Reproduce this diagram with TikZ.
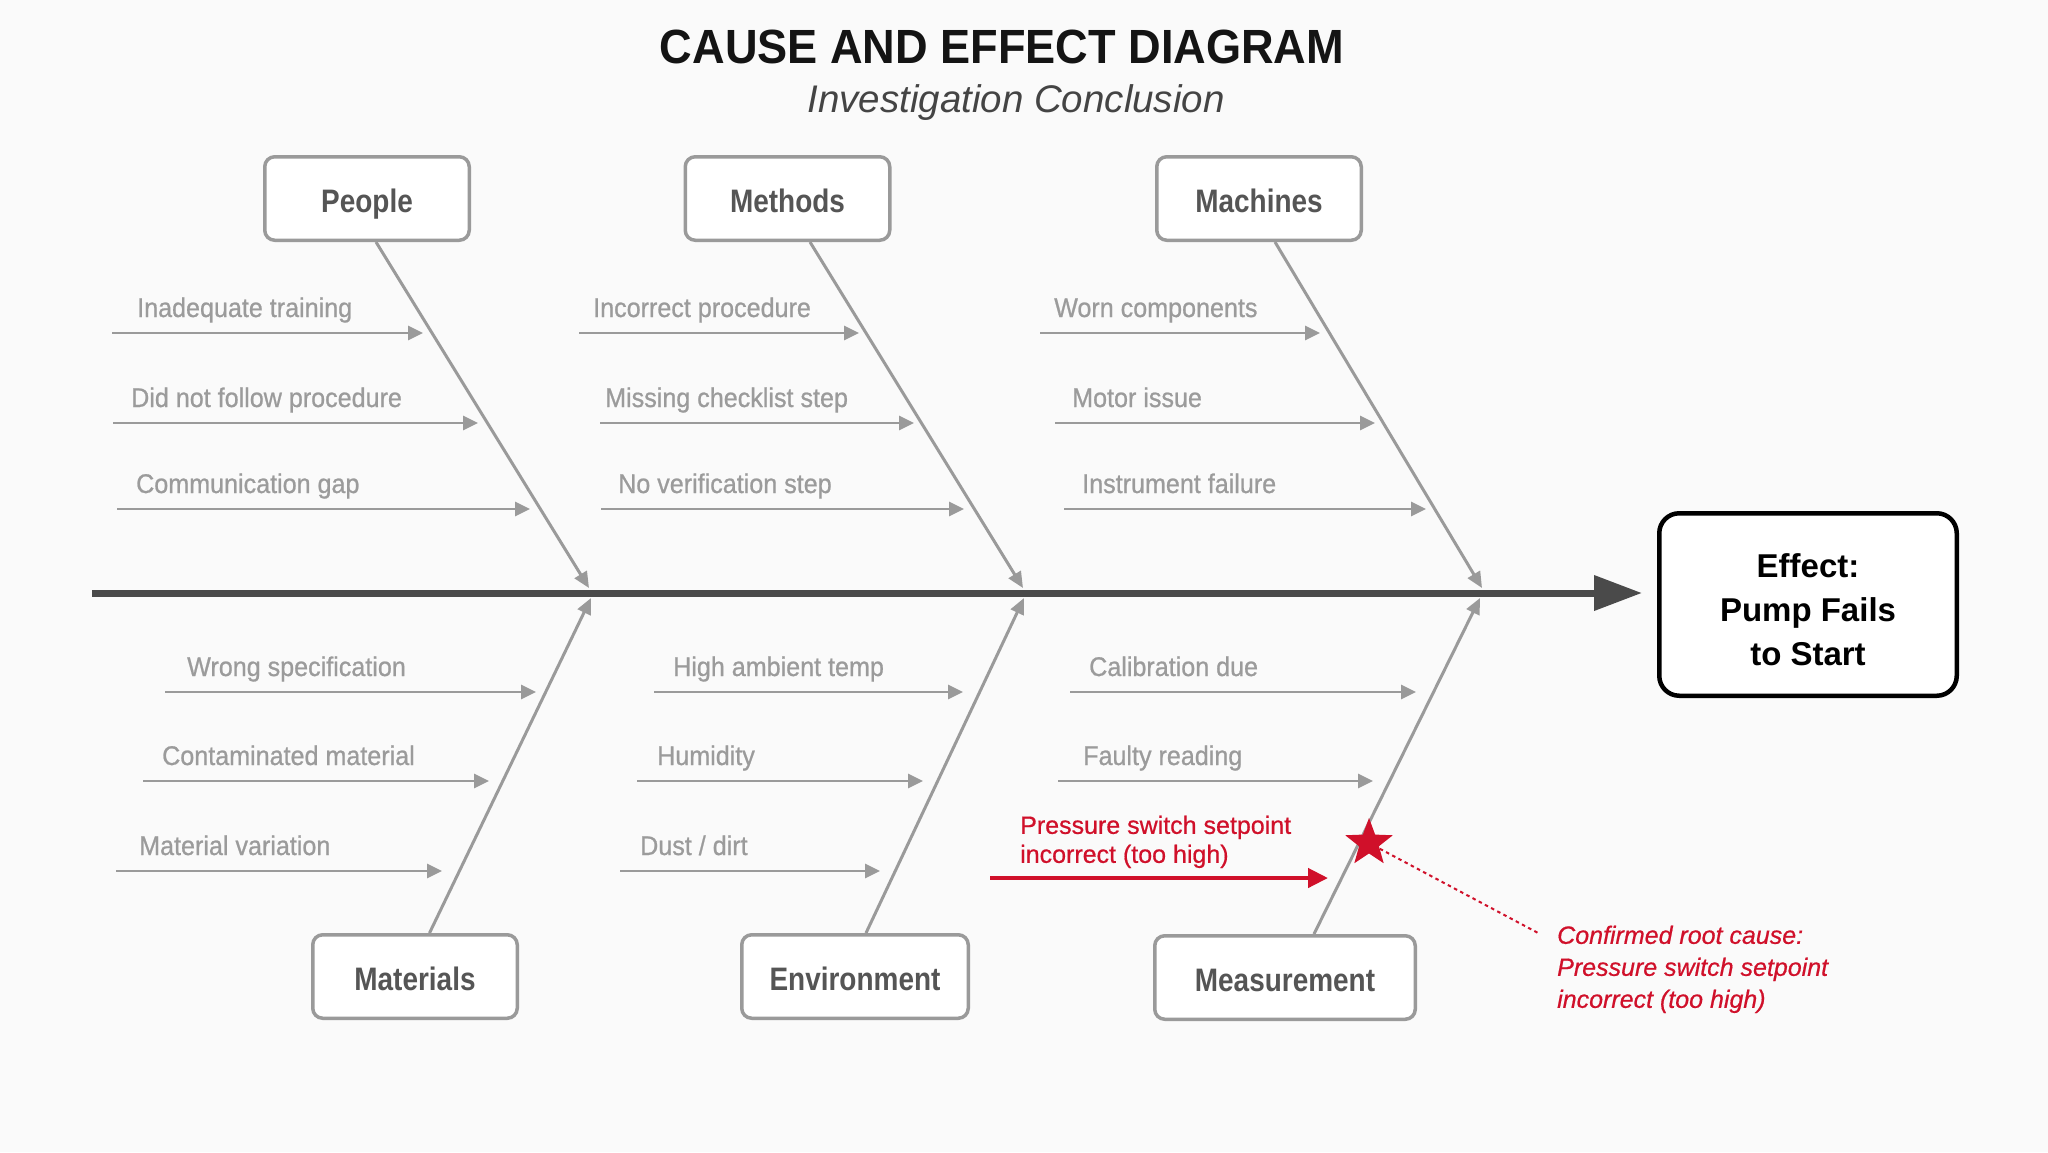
\documentclass[tikz,border=0pt]{standalone}
\usepackage{fontspec}
\setmainfont{Liberation Sans}
\newfontfamily\labfont[FakeStretch=0.93,FakeBold=0.8]{Liberation Sans}
\newfontfamily\redfont[FakeBold=0.6]{Liberation Sans}
\newfontfamily\catfont[FakeStretch=0.86]{Liberation Sans}
\newfontfamily\ttlfont[FakeStretch=0.94]{Liberation Sans}
\usetikzlibrary{arrows.meta,shapes.geometric,calc}
\definecolor{bonegray}{HTML}{9A9A9A}
\definecolor{labgray}{HTML}{9B9B9B}
\definecolor{catgray}{HTML}{555555}
\definecolor{spinegray}{HTML}{4A4A4A}
\definecolor{rootred}{HTML}{D0102A}
\definecolor{bgc}{HTML}{FAFAFA}
\definecolor{subgray}{HTML}{444444}
\begin{document}
\begin{tikzpicture}[x=1pt,y=-1pt,
  catbox/.style={draw=bonegray, line width=3.5pt, rounded corners=10pt, fill=white,
    minimum width=204.5pt, minimum height=83.5pt, text=catgray, inner sep=0pt,
    text height=32pt, text depth=4pt,
    font=\catfont\bfseries\fontsize{32.5}{38}\selectfont},
  causelab/.style={anchor=base west, inner sep=0pt, text=labgray,
    font=\labfont\fontsize{27}{32}\selectfont},
  causearr/.style={draw=bonegray, line width=2.8pt, -{Triangle[length=15pt,width=14pt]}},
  bone/.style={draw=bonegray, line width=3pt, -{Triangle[length=16pt,width=14pt]}},
]
\fill[bgc] (0,0) rectangle (2048,1152);
\useasboundingbox (0,0) rectangle (2048,1152);

% titles
\node[anchor=base, inner sep=0pt, text=black!92, font=\ttlfont\bfseries\fontsize{48}{56}\selectfont] (title) at (1002,63) {CAUSE AND EFFECT DIAGRAM};
\node[anchor=base, inner sep=0pt, text=subgray, font=\itshape\fontsize{38.5}{44}\selectfont] (subtitle) at (1016,112) {Investigation Conclusion};

% category boxes
\node[catbox] (people) at (367,198.5) {People};
\node[catbox] (methods) at (787.5,198.5) {Methods};
\node[catbox] (machines) at (1259,198.5) {Machines};
\node[catbox] (materials) at (415,976.5) {Materials};
\node[catbox, minimum width=226.5pt] (environment) at (855,976.5) {Environment};
\node[catbox, minimum width=260.5pt] (measurement) at (1285,977.5) {Measurement};

% effect
\node[draw=black, line width=4.5pt, rounded corners=20pt, fill=white,
  minimum width=297.5pt, minimum height=182.5pt, align=center, inner sep=0pt,
  font=\bfseries\fontsize{33}{44}\selectfont] (effect) at (1808,604.5) {\rule{0pt}{34.5pt}Effect:\\Pump Fails\\to Start};

% spine
\coordinate (spineL) at (92,593);
\draw[draw=spinegray, line width=7pt, -{Triangle[length=48pt,width=34pt]}, shorten >=15pt] (spineL) -- (effect.west |- spineL);

% bone joints
\coordinate (jP) at (589,588);
\coordinate (jM) at (1023,588);
\coordinate (jC) at (1482,588);
\coordinate (jMa) at (591,598);
\coordinate (jE) at (1024,598);
\coordinate (jMe) at (1480,598);

\draw[bone] ($(people.south)+(9,0)$) -- (jP);
\draw[bone] ($(methods.south)+(22.5,0)$) -- (jM);
\draw[bone] ($(machines.south)+(16,0)$) -- (jC);
\draw[bone] ($(materials.north)+(14.5,0)$) -- (jMa);
\draw[bone] ($(environment.north)+(11,0)$) -- (jE);
\draw[bone] ($(measurement.north)+(29,0)$) -- (jMe);

% People causes
\node[causelab] (lp1) at (137,317) {Inadequate training};
\node[causelab] (lp2) at (131,407) {Did not follow procedure};
\node[causelab] (lp3) at (136,493) {Communication gap};
\coordinate (sp1) at (112,333); \coordinate (ep1) at (423,333);
\coordinate (sp2) at (113,423); \coordinate (ep2) at (478,423);
\coordinate (sp3) at (117,509); \coordinate (ep3) at (530,509);
\draw[causearr] (sp1) -- (ep1);
\draw[causearr] (sp2) -- (ep2);
\draw[causearr] (sp3) -- (ep3);

% Methods causes
\node[causelab] (lm1) at (593,317) {Incorrect procedure};
\node[causelab] (lm2) at (605,407) {Missing checklist step};
\node[causelab] (lm3) at (618,493) {No verification step};
\coordinate (sm1) at (579,333); \coordinate (em1) at (859,333);
\coordinate (sm2) at (600,423); \coordinate (em2) at (914,423);
\coordinate (sm3) at (601,509); \coordinate (em3) at (964,509);
\draw[causearr] (sm1) -- (em1);
\draw[causearr] (sm2) -- (em2);
\draw[causearr] (sm3) -- (em3);

% Machines causes
\node[causelab] (lc1) at (1054,317) {Worn components};
\node[causelab] (lc2) at (1072,407) {Motor issue};
\node[causelab] (lc3) at (1082,493) {Instrument failure};
\coordinate (sc1) at (1040,333); \coordinate (ec1) at (1320,333);
\coordinate (sc2) at (1055,423); \coordinate (ec2) at (1375,423);
\coordinate (sc3) at (1064,509); \coordinate (ec3) at (1426,509);
\draw[causearr] (sc1) -- (ec1);
\draw[causearr] (sc2) -- (ec2);
\draw[causearr] (sc3) -- (ec3);

% Materials causes
\node[causelab] (la1) at (187,676) {Wrong specification};
\node[causelab] (la2) at (162,765) {Contaminated material};
\node[causelab] (la3) at (139,855) {Material variation};
\coordinate (sa1) at (165,692); \coordinate (ea1) at (536,692);
\coordinate (sa2) at (143,781); \coordinate (ea2) at (489,781);
\coordinate (sa3) at (116,871); \coordinate (ea3) at (442,871);
\draw[causearr] (sa1) -- (ea1);
\draw[causearr] (sa2) -- (ea2);
\draw[causearr] (sa3) -- (ea3);

% Environment causes
\node[causelab] (le1) at (673,676) {High ambient temp};
\node[causelab] (le2) at (657,765) {Humidity};
\node[causelab] (le3) at (640,855) {Dust / dirt};
\coordinate (se1) at (654,692); \coordinate (ee1) at (963,692);
\coordinate (se2) at (637,781); \coordinate (ee2) at (923,781);
\coordinate (se3) at (620,871); \coordinate (ee3) at (880,871);
\draw[causearr] (se1) -- (ee1);
\draw[causearr] (se2) -- (ee2);
\draw[causearr] (se3) -- (ee3);

% Measurement causes
\node[causelab] (ls1) at (1089,676) {Calibration due};
\node[causelab] (ls2) at (1083,765) {Faulty reading};
\coordinate (ss1) at (1070,692); \coordinate (es1) at (1416,692);
\coordinate (ss2) at (1058,781); \coordinate (es2) at (1373,781);
\draw[causearr] (ss1) -- (es1);
\draw[causearr] (ss2) -- (es2);

% root cause
\node[anchor=north west, inner sep=0pt, align=left, text=rootred,
  font=\redfont\fontsize{25}{29}\selectfont] (rootlab) at (1020,815.5) {Pressure switch setpoint\\incorrect (too high)};
\coordinate (rs) at (990,878); \coordinate (re) at (1328,878);
\draw[draw=rootred, line width=4.3pt, -{Triangle[length=20pt,width=19pt]}] (rs) -- (re);
\node[star, star points=5, star point ratio=2.4, fill=rootred, minimum size=50pt, inner sep=0pt] (star) at (1369,843) {};
\coordinate (dotE) at (1540,934);
\draw[draw=rootred, line width=2pt, dash pattern=on 3.5pt off 3.5pt] (star) -- (dotE);
\node[anchor=north west, inner sep=0pt, align=left, text=rootred,
  font=\redfont\itshape\fontsize{25}{32}\selectfont] (annot) at (1557,925.5) {Confirmed root cause:\\Pressure switch setpoint\\incorrect (too high)};
\end{tikzpicture}
\end{document}
